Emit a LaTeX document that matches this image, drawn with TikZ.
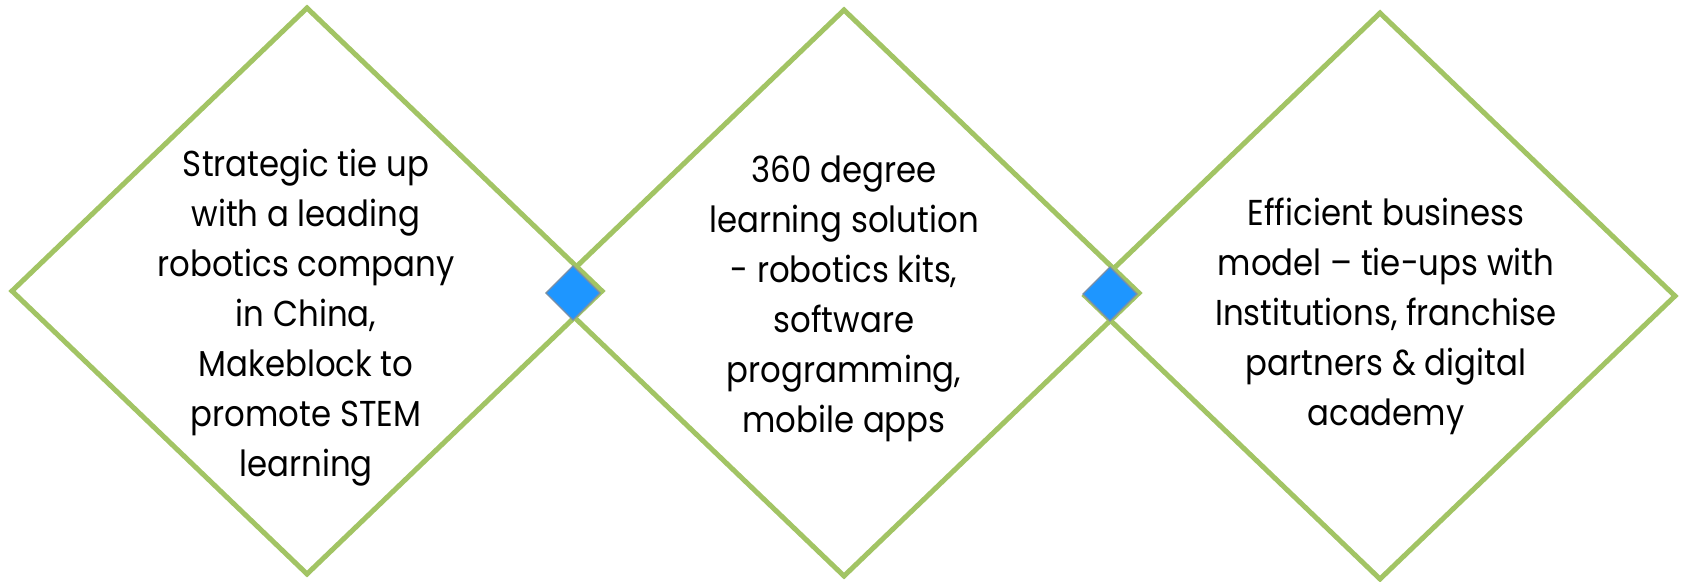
\documentclass[tikz,border=0pt]{standalone}
\usepackage{fontspec}
\setmainfont{Poppins}[FakeStretch=0.9]
\usetikzlibrary{shapes.geometric}
\definecolor{leaf}{HTML}{A2C464}
\definecolor{joint}{HTML}{1E96FF}
\definecolor{jointedge}{HTML}{7A8EA8}
\tikzset{
  bigdia/.style={diamond, draw=leaf, line width=5pt, minimum width=590pt,
    minimum height=566pt, inner sep=0pt, outer sep=0pt},
  joindia/.style={diamond, fill=joint, draw=jointedge, line width=1.2pt,
    minimum width=54pt, minimum height=54pt, inner sep=0pt, outer sep=0pt},
  body/.style={align=center, inner sep=0pt, text=black,
    font=\fontsize{36}{50}\selectfont},
}
\begin{document}
\begin{tikzpicture}[x=1pt,y=1pt]
\useasboundingbox (0,0) rectangle (1683,581);
% three outlined diamonds
\node[bigdia] (d1) at (307,290) {};
\node[bigdia] (d2) at (844,288) {};
\node[bigdia] (d3) at (1380,285) {};
% blue joints where neighbouring diamonds meet
\node[joindia] (j1) at (573,288) {};
\node[joindia] (j2) at (1110,287) {};
% texts
\node[body] (t1) at (306,263) {Strategic tie up\\with a leading\\robotics company\\in China,\\Makeblock to\\promote STEM\\learning};
\node[body] (t2) at (844,282) {360 degree\\learning solution\\- robotics kits,\\software\\programming,\\mobile apps};
\node[body] (t3) at (1386,265) {Efficient business\\model -- tie-ups with\\Institutions, franchise\\partners \& digital\\academy};
\end{tikzpicture}
\end{document}
